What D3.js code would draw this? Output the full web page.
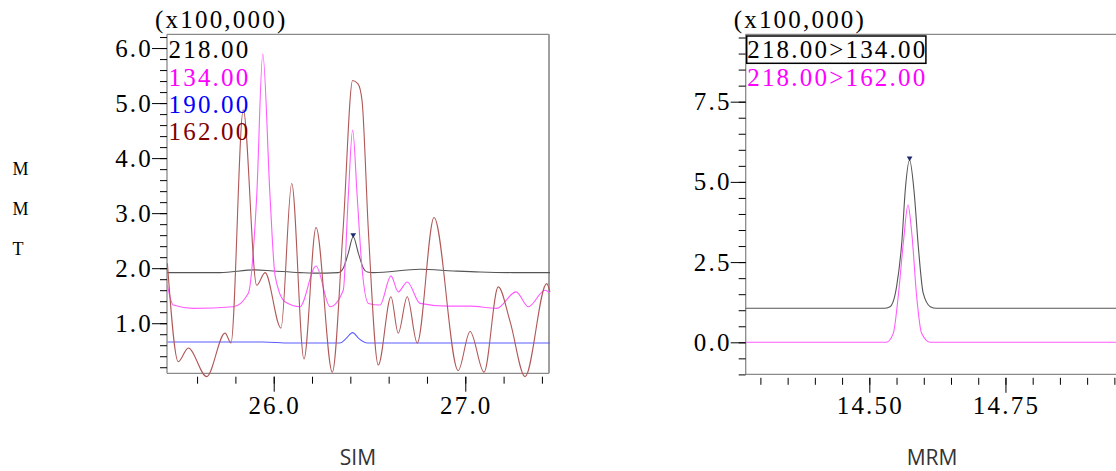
<!DOCTYPE html>
<html>
<head>
<meta charset="utf-8">
<script src="https://cdn.jsdelivr.net/npm/d3@7"></script>
<style>
    body { margin: 0; background: #fff; }
    text.num { font-family: "Liberation Serif", "Times New Roman", serif; font-size: 25px; letter-spacing: 2.2px; }
</style>
</head>
<body>
<div id="chart"></div>
<script>
// SIM panel: retention time (min) against intensity (x100,000), one array per m/z.
const sim_218 = [[25.445, 1.92], [25.72, 1.92], [25.902, 1.97], [25.996, 1.95], [26.137, 1.92],
    [26.207, 1.91], [26.337, 1.92], [26.363, 2.0], [26.389, 2.27], [26.415, 2.57], [26.442, 2.27],
    [26.468, 2.0], [26.489, 1.93], [26.52, 1.92], [26.764, 1.98], [26.937, 1.95], [27.077, 1.93],
    [27.25, 1.92], [27.442, 1.92]];
const sim_134 = [[25.445, 1.69], [25.476, 1.33], [25.58, 1.27], [25.789, 1.30], [25.867, 1.54],
    [25.911, 3.29], [25.943, 5.89], [25.981, 3.29], [26.007, 1.87], [26.059, 1.39], [26.137, 1.30],
    [26.221, 2.04], [26.294, 1.30], [26.363, 1.6], [26.389, 3.29], [26.412, 4.51], [26.436, 3.29],
    [26.459, 2.08], [26.494, 1.36], [26.555, 1.33], [26.612, 1.86], [26.65, 1.57], [26.697, 1.75],
    [26.764, 1.36], [26.903, 1.31], [27.025, 1.31], [27.164, 1.27], [27.265, 1.57], [27.329, 1.30],
    [27.416, 1.60], [27.442, 1.55]];
const sim_190 = [[25.445, 0.66], [25.944, 0.66], [26.085, 0.64], [26.346, 0.64], [26.377, 0.72],
    [26.412, 0.83], [26.445, 0.72], [26.489, 0.64], [27.442, 0.64]];
const sim_162 = [[25.445, 2.09], [25.502, 0.30], [25.554, 0.55], [25.65, 0.03], [25.746, 0.82],
    [25.777, 0.64], [25.841, 4.88], [25.911, 1.69], [25.955, 1.92], [26.038, 0.91], [26.094, 3.54],
    [26.158, 0.35], [26.221, 2.74], [26.306, 0.11], [26.362, 2.69], [26.412, 5.41], [26.44, 5.35],
    [26.461, 5.05], [26.494, 2.69], [26.546, 0.24], [26.612, 1.48], [26.65, 0.82], [26.697, 1.48],
    [26.749, 0.64], [26.837, 2.92], [26.963, 0.14], [27.025, 0.85], [27.098, 0.11], [27.172, 1.66],
    [27.234, 1.03], [27.312, 0.03], [27.425, 1.72], [27.442, 1.57]];
const sim_peak = [[26.415, 2.57]];
const sim_names = ["218.00", "134.00", "190.00", "162.00"];
const sim_x_labels = [26.0, 27.0];
const sim_y_labels = [1.0, 2.0, 3.0, 4.0, 5.0, 6.0];

// MRM panel: two transitions of the same precursor.
const mrm_134 = [[14.273, 1.06], [14.527, 1.06], [14.538, 1.11], [14.550, 1.73], [14.560, 3.19],
    [14.566, 4.74], [14.574, 5.68], [14.582, 4.74], [14.590, 2.98], [14.599, 1.53], [14.612, 1.11],
    [14.623, 1.06], [14.953, 1.06]];
const mrm_162 = [[14.273, 0.0], [14.531, 0.0], [14.544, 0.28], [14.553, 1.42], [14.563, 3.19],
    [14.571, 4.28], [14.578, 3.40], [14.587, 1.42], [14.596, 0.28], [14.612, 0.0], [14.953, 0.0]];
const mrm_peak = [[14.574, 5.68]];
const mrm_names = ["218.00>134.00", "218.00>162.00"];
const mrm_x_labels = [14.50, 14.75];
const mrm_y_labels = [0.0, 2.5, 5.0, 7.5];

const side_labels = ["M", "M", "T"];
const panel_titles = ["SIM", "MRM"];
const scale_note = "(x100,000)";


let ChromPanel = class {
    // Tick geometry.
    tick_gap = 3.4; minor_len = 7; major_len = 15;

    constructor(svg, o) {
        this.o = o;
        this.g = svg.append("g");

        this.x = d3.scaleLinear().domain(o.x_domain).range([o.left, o.right]);
        this.y = d3.scaleLinear().domain(o.y_domain).range([o.bottom, o.top]);

        this.draw_frame();
        this.draw_x_axis();
        this.draw_y_axis();
        this.draw_lines();
        this.draw_legend();
        this.draw_texts();
    }

    draw_frame() {
        const o = this.o;
        const frame = this.g.append("g")
            .style("stroke", "#8a8a8a")
            .style("stroke-width", 1.3);

        frame.append("line").attr("x1", o.left).attr("x2", o.right).attr("y1", o.top).attr("y2", o.top);
        frame.append("line").attr("x1", o.left).attr("x2", o.right).attr("y1", o.bottom).attr("y2", o.bottom);
        frame.append("line").attr("x1", o.left).attr("x2", o.left).attr("y1", o.top).attr("y2", o.bottom);

        // The SIM panel is closed on the right, the MRM one runs off the page.
        if (o.box_right) {
            frame.append("line").attr("x1", o.right).attr("x2", o.right)
                .attr("y1", o.top).attr("y2", o.bottom)
                .style("stroke", "#a0a0a0").style("stroke-width", 2);
        }
    }

    // Ticks only, the numbers are written separately in the serif face.
    tick_axis(axis, transform, values, size) {
        this.g.append("g")
            .attr("transform", transform)
            .call(axis.tickValues(values).tickSize(size).tickFormat(() => ""))
            .call(g => g.select(".domain").remove())
            .call(g => g.selectAll("text").remove());
    }

    draw_x_axis() {
        const o = this.o;
        const y0 = o.bottom + this.tick_gap;
        const minor = d3.range(o.x_minor[0], o.x_minor[1] + 1e-9, o.x_minor[2]);
        const tr = "translate(0, " + y0 + ")";

        this.tick_axis(d3.axisBottom(this.x), tr, minor, this.minor_len);
        this.tick_axis(d3.axisBottom(this.x), tr, o.x_labels, this.major_len);

        this.g.append("g")
            .selectAll("text")
                .data(o.x_labels)
                .join("text")
                    .attr("class", "num")
                    .attr("x", d => this.x(d) + 1)
                    .attr("y", 414)
                    .attr("text-anchor", "middle")
                    .text(o.x_fmt);
    }

    draw_y_axis() {
        const o = this.o;
        const minor = d3.range(o.y_minor[0], o.y_minor[1] + 1e-9, o.y_minor[2]);
        const tr = "translate(" + o.left + ", 0)";

        this.tick_axis(d3.axisLeft(this.y), tr, minor, this.minor_len);
        this.tick_axis(d3.axisLeft(this.y), tr, o.y_labels, this.major_len);

        this.g.append("g")
            .selectAll("text")
                .data(o.y_labels)
                .join("text")
                    .attr("class", "num")
                    .attr("x", o.left - this.major_len + 1)
                    .attr("y", d => this.y(d))
                    .attr("dy", "0.34em")
                    .attr("text-anchor", "end")
                    .text(o.y_fmt);
    }

    draw_lines() {
        const line = d3.line()
            .x(d => this.x(d[0]))
            .y(d => this.y(d[1]))
            .curve(d3.curveMonotoneX);

        this.g.append("g")
            .selectAll("path")
                .data(this.o.series)
                .join("path")
                    .attr("d", d => line(d.data))
                    .style("fill", "none")
                    .style("stroke", d => d.line)
                    .style("stroke-width", 1.1);

        // Little peak-top flags.
        this.g.append("g")
            .selectAll("path")
                .data(this.o.marks)
                .join("path")
                    .attr("d", d3.symbol(d3.symbolTriangle).size(14))
                    .attr("transform", d => "translate(" + this.x(d[0]) + ", " + (this.y(d[1]) - 2) + ") rotate(180)")
                    .style("fill", "#1c2a6e");
    }

    draw_legend() {
        const o = this.o;
        const texts = this.g.append("g")
            .selectAll("text")
                .data(o.series)
                .join("text")
                    .attr("class", "num")
                    .attr("x", o.left + 1.5)
                    .attr("y", (d, i) => 58.3 + i * 27.2)
                    .style("fill", d => d.text)
                    .text(d => d.name);

        // The selected trace gets a box round its name.
        if (o.boxed) {
            const bb = texts.node().getBBox();
            this.g.append("rect")
                .attr("x", bb.x - 0.5)
                .attr("y", 36)
                .attr("width", bb.width - 1)
                .attr("height", 27.3)
                .style("fill", "none")
                .style("stroke", "#000")
                .style("stroke-width", 1.5);
        }
    }

    draw_texts() {
        const o = this.o;

        this.g.append("text")
            .attr("class", "num")
            .attr("x", o.left - 12)
            .attr("y", 28)
            .text(scale_note);

        this.g.append("text")
            .attr("x", o.title_x)
            .attr("y", 465)
            .attr("text-anchor", "middle")
            .style("font-family", "'Open Sans', 'Noto Sans', sans-serif")
            .style("font-size", "21px")
            .style("fill", "#333")
            .text(o.title);
    }
}


const svg = d3.select("div#chart").append("svg")
    .attr("width", 1116)
    .attr("height", 471)
    .attr("viewBox", "0 0 1116 471");

const fmt1 = d => d3.format(".1f")(d);

new ChromPanel(svg, {
    left: 167, right: 549, top: 34.3, bottom: 373.3, box_right: true,
    x_domain: [25.443, 27.437], y_domain: [0.09, 6.25],
    x_minor: [25.6, 27.4, 0.2], y_minor: [0.2, 6.2, 0.2],
    x_labels: sim_x_labels, y_labels: sim_y_labels,
    x_fmt: fmt1, y_fmt: fmt1,
    series: [
        {name: sim_names[0], data: sim_218, line: "#555555", text: "#000000"},
        {name: sim_names[1], data: sim_134, line: "#ff5cff", text: "#ff00ff"},
        {name: sim_names[2], data: sim_190, line: "#5c5cff", text: "#0000ff"},
        {name: sim_names[3], data: sim_162, line: "#b05858", text: "#800000"}
    ],
    marks: sim_peak, boxed: false,
    title: panel_titles[0], title_x: 358
});

new ChromPanel(svg, {
    left: 745.7, right: 1116, top: 34.3, bottom: 374.4, box_right: false,
    x_domain: [14.273, 14.953], y_domain: [-1, 9.6],
    x_minor: [14.30, 14.95, 0.05], y_minor: [-1, 9.5, 0.5],
    x_labels: mrm_x_labels, y_labels: mrm_y_labels,
    x_fmt: d => d3.format(".2f")(d), y_fmt: fmt1,
    series: [
        {name: mrm_names[0], data: mrm_134, line: "#555555", text: "#000000"},
        {name: mrm_names[1], data: mrm_162, line: "#ff5cff", text: "#ff00ff"}
    ],
    marks: mrm_peak, boxed: true,
    title: panel_titles[1], title_x: 932
});

// Vertical "M M T" note at the far left.
svg.append("g")
    .selectAll("text")
        .data(side_labels)
        .join("text")
            .attr("x", 12.5)
            .attr("y", (d, i) => 175 + i * 40)
            .style("font-family", "'Liberation Serif', serif")
            .style("font-size", "18px")
            .text(d => d);
</script>
</body>
</html>
